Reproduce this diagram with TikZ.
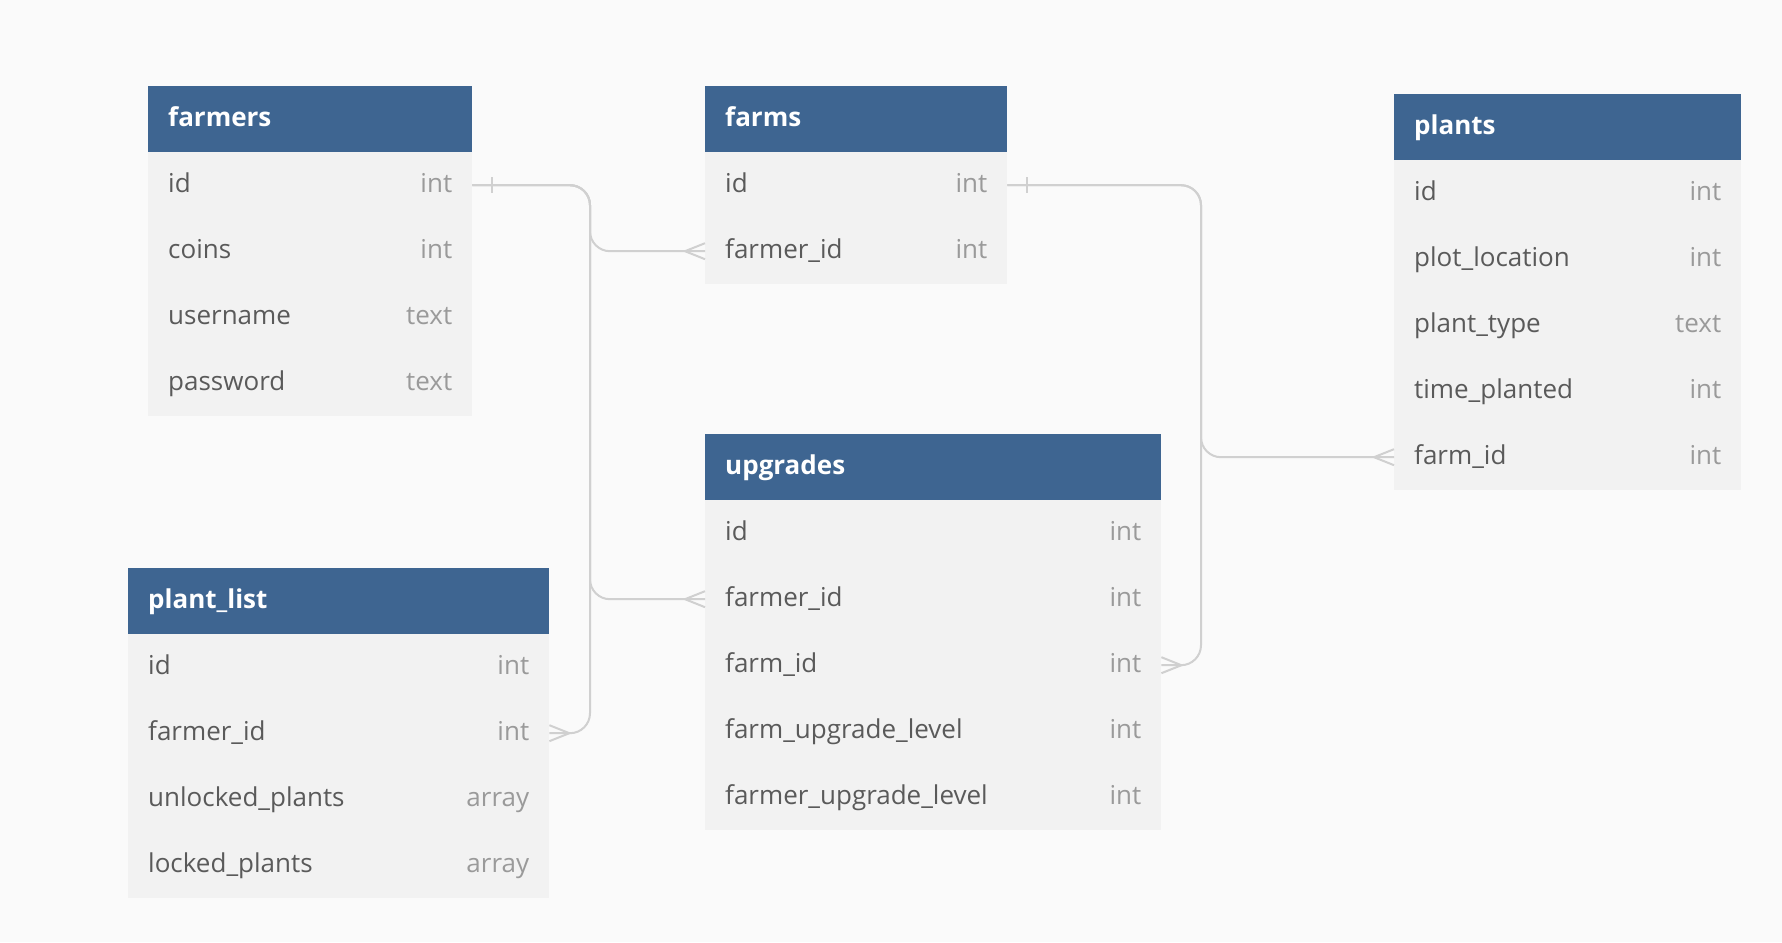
\documentclass[tikz,border=0pt]{standalone}
\usepackage{fontspec}
\setmainfont{Open Sans}
\usepackage{xcolor}
\usepackage{tikz}
\usetikzlibrary{calc,positioning}
\definecolor{headblue}{HTML}{3E6591}
\definecolor{rowgray}{HTML}{F2F2F2}
\definecolor{pagebg}{HTML}{FAFAFA}
\definecolor{fieldtxt}{HTML}{5A5A5A}
\definecolor{typetxt}{HTML}{9A9A9A}
\definecolor{linkgray}{HTML}{D0D0D0}
\tikzset{
  head/.style={fill=headblue,anchor=north west,minimum height=66pt,inner sep=0pt},
  rowbox/.style={fill=rowgray,anchor=north west,minimum height=66pt,inner sep=0pt},
  title/.style={anchor=west,inner sep=0pt,text=white,font=\fontsize{26}{30}\selectfont\bfseries,text height=19pt,text depth=5pt},
  field/.style={anchor=west,inner sep=0pt,text=fieldtxt,font=\fontsize{26}{30}\selectfont,text height=19pt,text depth=5pt},
  ftype/.style={anchor=east,inner sep=0pt,text=typetxt,font=\fontsize{26}{30}\selectfont,text height=19pt,text depth=5pt},
  link/.style={draw=linkgray,line width=2pt,rounded corners=20pt},
  crow/.pic={\draw[link] (-20,0) -- (0,-8) (-20,0) -- (0,8);},
  onetick/.pic={\draw[link] (20,-8) -- (20,8);}
}

\begin{document}
\begin{tikzpicture}[x=1pt,y=-1pt]
\fill[pagebg] (0,0) rectangle (1782,942);
\coordinate (busA) at (590,0); \coordinate (busB) at (1201,0);
% farmers
\node[head,minimum width=324pt] (farmers) at (148,86) {};
\node[title] (farmers-title) at ([xshift=20pt]farmers.west) {farmers};
\foreach \f/\t [count=\i] in {id/int,coins/int,username/text,password/text}{
  \node[rowbox,minimum width=324pt] (farmers-\i) at (148,{86+66*\i}) {};
  \node[field] (farmers-f\i) at ([xshift=20pt]farmers-\i.west) {\f};
  \node[ftype] (farmers-t\i) at ([xshift=-20pt]farmers-\i.east) {\t};
}
% farms
\node[head,minimum width=302pt] (farms) at (705,86) {};
\node[title] (farms-title) at ([xshift=20pt]farms.west) {farms};
\foreach \f/\t [count=\i] in {id/int,farmer\_id/int}{
  \node[rowbox,minimum width=302pt] (farms-\i) at (705,{86+66*\i}) {};
  \node[field] (farms-f\i) at ([xshift=20pt]farms-\i.west) {\f};
  \node[ftype] (farms-t\i) at ([xshift=-20pt]farms-\i.east) {\t};
}
% plants
\node[head,minimum width=347pt] (plants) at (1394,94) {};
\node[title] (plants-title) at ([xshift=20pt]plants.west) {plants};
\foreach \f/\t [count=\i] in {id/int,plot\_location/int,plant\_type/text,time\_planted/int,farm\_id/int}{
  \node[rowbox,minimum width=347pt] (plants-\i) at (1394,{94+66*\i}) {};
  \node[field] (plants-f\i) at ([xshift=20pt]plants-\i.west) {\f};
  \node[ftype] (plants-t\i) at ([xshift=-20pt]plants-\i.east) {\t};
}
% upgrades
\node[head,minimum width=456pt] (upgrades) at (705,434) {};
\node[title] (upgrades-title) at ([xshift=20pt]upgrades.west) {upgrades};
\foreach \f/\t [count=\i] in {id/int,farmer\_id/int,farm\_id/int,farm\_upgrade\_level/int,farmer\_upgrade\_level/int}{
  \node[rowbox,minimum width=456pt] (upgrades-\i) at (705,{434+66*\i}) {};
  \node[field] (upgrades-f\i) at ([xshift=20pt]upgrades-\i.west) {\f};
  \node[ftype] (upgrades-t\i) at ([xshift=-20pt]upgrades-\i.east) {\t};
}
% plant_list
\node[head,minimum width=421pt] (plantlist) at (128,568) {};
\node[title] (plantlist-title) at ([xshift=20pt]plantlist.west) {plant\_list};
\foreach \f/\t [count=\i] in {id/int,farmer\_id/int,unlocked\_plants/array,locked\_plants/array}{
  \node[rowbox,minimum width=421pt] (plantlist-\i) at (128,{568+66*\i}) {};
  \node[field] (plantlist-f\i) at ([xshift=20pt]plantlist-\i.west) {\f};
  \node[ftype] (plantlist-t\i) at ([xshift=-20pt]plantlist-\i.east) {\t};
}
% links
\draw[link] (farmers-1.east) -- (farmers-1.east -| busA) |- (farms-2.west);
\draw[link] (farmers-1.east) -- (farmers-1.east -| busA) |- (upgrades-2.west);
\draw[link] (farmers-1.east) -- (farmers-1.east -| busA) |- (plantlist-2.east);
\draw[link] (farms-1.east) -- (farms-1.east -| busB) |- (plants-5.west);
\draw[link] (farms-1.east) -- (farms-1.east -| busB) |- (upgrades-3.east);
\pic at (farmers-1.east) {onetick};
\pic at (farms-1.east) {onetick};
\pic at (farms-2.west) {crow};
\pic at (upgrades-2.west) {crow};
\pic at (plants-5.west) {crow};
\pic[xscale=-1] at (plantlist-2.east) {crow};
\pic[xscale=-1] at (upgrades-3.east) {crow};
\end{tikzpicture}
\end{document}
